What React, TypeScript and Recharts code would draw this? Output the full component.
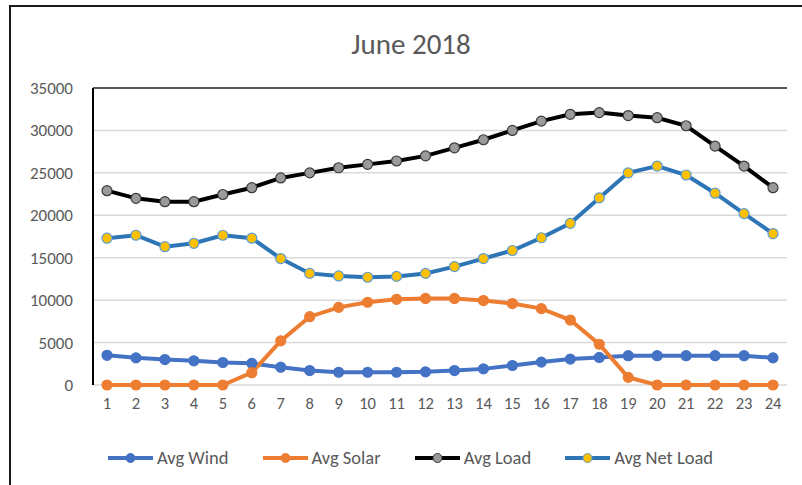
import React from "react"
import {
  CartesianGrid,
  Legend,
  Line,
  LineChart,
  ReferenceLine,
  XAxis,
  YAxis,
} from "recharts"

// hour of day
const hours = [
  1, 2, 3, 4, 5, 6, 7, 8, 9, 10, 11, 12, 13, 14, 15, 16, 17, 18, 19, 20, 21, 22,
  23, 24,
]

const avgWind = [
  3500, 3200, 3000, 2850, 2650, 2550, 2100, 1700, 1500, 1500, 1500, 1550, 1700,
  1900, 2300, 2700, 3050, 3250, 3450, 3450, 3450, 3450, 3450, 3200,
]

const avgSolar = [
  0, 0, 0, 0, 0, 1450, 5200, 8050, 9150, 9750, 10100, 10200, 10200, 9950, 9600,
  9000, 7650, 4800, 900, 0, 0, 0, 0, 0,
]

const avgLoad = [
  22900, 22000, 21600, 21600, 22450, 23250, 24400, 25000, 25600, 26000, 26400,
  27000, 27950, 28900, 30000, 31100, 31900, 32100, 31750, 31500, 30550, 28150,
  25800, 23250,
]

const avgNetLoad = [
  17300, 17650, 16300, 16700, 17650, 17300, 14900, 13150, 12850, 12700, 12800,
  13150, 13950, 14900, 15850, 17350, 19050, 22050, 25000, 25800, 24750, 22600,
  20200, 17850,
]

const yTicks = [0, 5000, 10000, 15000, 20000, 25000, 30000, 35000]

const data = hours.map((h, i) => ({
  hour: h,
  wind: avgWind[i],
  solar: avgSolar[i],
  load: avgLoad[i],
  net: avgNetLoad[i],
}))

const FONT = "Carlito, Calibri, Lato, sans-serif"
const TEXT = "#595959"

const series = [
  { key: "wind", name: "Avg Wind", stroke: "#4472C4", fill: "#4472C4", dotStroke: "#4472C4" },
  { key: "solar", name: "Avg Solar", stroke: "#ED7D31", fill: "#ED7D31", dotStroke: "#ED7D31" },
  { key: "load", name: "Avg Load", stroke: "#000000", fill: "#9a9a9a", dotStroke: "#3a3a3a" },
  { key: "net", name: "Avg Net Load", stroke: "#2E75B6", fill: "#FFC000", dotStroke: "#5B9BD5" },
]

const LegendContent = () => (
  <div style={{ display: "flex", gap: 34, fontFamily: FONT, fontSize: 18.5, color: TEXT }}>
    {series.map((s) => (
      <div key={s.key} style={{ display: "flex", alignItems: "center", gap: 4 }}>
        <svg width={45} height={12}>
          <line x1={0} y1={6} x2={45} y2={6} stroke={s.stroke} strokeWidth={4} strokeLinecap="round" />
          <circle cx={22.5} cy={6} r={4.5} fill={s.fill} stroke={s.dotStroke} strokeWidth={1} />
        </svg>
        <span>{s.name}</span>
      </div>
    ))}
  </div>
)

export default function App() {
  return (
    <div style={{ position: "absolute", left: 0, top: 0, width: 802, height: 485, overflow: "hidden", background: "#fff" }}>
      <div
        style={{
          position: "absolute",
          left: 9,
          top: 5,
          width: 900,
          height: 600,
          borderLeft: "2px solid #1a1a1a",
          borderTop: "2px solid #1a1a1a",
        }}
      />
      <div
        style={{
          position: "absolute",
          top: 30,
          left: 211,
          width: 400,
          textAlign: "center",
          fontFamily: FONT,
          fontSize: 29,
          lineHeight: 1,
          color: TEXT,
        }}
      >
        June 2018
      </div>
      <div style={{ position: "absolute", left: 0, top: 0 }}>
        <LineChart
          width={802}
          height={485}
          data={data}
          margin={{ top: 88, right: 15, left: 0, bottom: 60 }}
        >
          <CartesianGrid vertical={false} stroke="#d9d9d9" strokeWidth={1.5} />
          <XAxis
            dataKey="hour"
            axisLine={false}
            tickLine={false}
            tickSize={0}
            tickMargin={12}
            height={40}
            interval={0}
            padding={{ left: 14, right: 14 }}
            tick={{ fill: TEXT, fontSize: 16.5, fontFamily: FONT }}
          />
          <YAxis
            width={93}
            domain={[0, 35000]}
            ticks={yTicks}
            interval={0}
            axisLine={{ stroke: "#000", strokeWidth: 2 }}
            tickLine={false}
            tickSize={0}
            tickMargin={20}
            tick={{ fill: TEXT, fontSize: 17, fontFamily: FONT }}
          />
          <YAxis
            yAxisId="frame"
            orientation="right"
            width={0}
            domain={[0, 35000]}
            tick={false}
            tickLine={false}
            axisLine={{ stroke: "#595959", strokeWidth: 2 }}
          />
          <ReferenceLine y={35000} stroke="#595959" strokeWidth={2} />
          {series.map((s) => (
            <Line
              key={s.key}
              dataKey={s.key}
              name={s.name}
              type="linear"
              stroke={s.stroke}
              strokeWidth={4}
              dot={{ r: 5, fill: s.fill, stroke: s.dotStroke, strokeWidth: 1.2 }}
              activeDot={false}
              isAnimationActive={false}
            />
          ))}
          <Legend
            verticalAlign="middle"
            layout="horizontal"
            content={<LegendContent />}
            wrapperStyle={{ top: 446, left: 108, width: 680 }}
          />
        </LineChart>
      </div>
    </div>
  )
}
